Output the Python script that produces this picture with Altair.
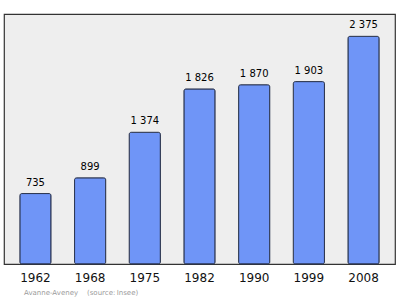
import altair as alt
import pandas as pd

years = ["1962", "1968", "1975", "1982", "1990", "1999", "2008"]
population = [735, 899, 1374, 1826, 1870, 1903, 2375]
labels = [f"{v:,}".replace(",", " ") for v in population]

df = pd.DataFrame({"year": years, "pop": population, "label": labels})

x = alt.X("year:N", sort=years, title=None,
          scale=alt.Scale(paddingInner=0.43, paddingOuter=0.29),
          axis=alt.Axis(labelAngle=0, ticks=False, domain=False, labelFontSize=12,
                        labelFont="DejaVu Sans", labelColor="#111", labelPadding=8))
y = alt.Y("pop:Q", title=None, scale=alt.Scale(domain=[0, 2608], nice=False, zero=True),
          axis=None)

bars = alt.Chart(df).mark_bar(color="#6f95f7", stroke="#2b3550", strokeWidth=1,
                              cornerRadius=2).encode(x=x, y=y)
text = alt.Chart(df).mark_text(baseline="bottom", dy=-6, fontSize=10, font="DejaVu Sans",
                               color="#000").encode(x=x, y=y, text="label:N")
footer = alt.Chart(pd.DataFrame({"t": ["Avanne-Aveney\u00a0\u00a0\u00a0\u00a0(source:\u2009Insee)"]})).mark_text(
    align="left", baseline="middle", fontSize=7, font="DejaVu Sans", color="#9a9a9a"
).encode(x=alt.value(20), y=alt.value(279), text="t:N")

chart = (bars + text + footer).properties(
    width=391, height=250,
    autosize=alt.AutoSizeParams(type="none"),
    padding={"left": 4, "top": 14, "right": 5, "bottom": 35},
    background="white",
).configure_view(fill="#eeeeee", stroke="#333333", strokeWidth=1.2)

chart.save("out.html", embed_options={"renderer": "svg", "actions": False})
